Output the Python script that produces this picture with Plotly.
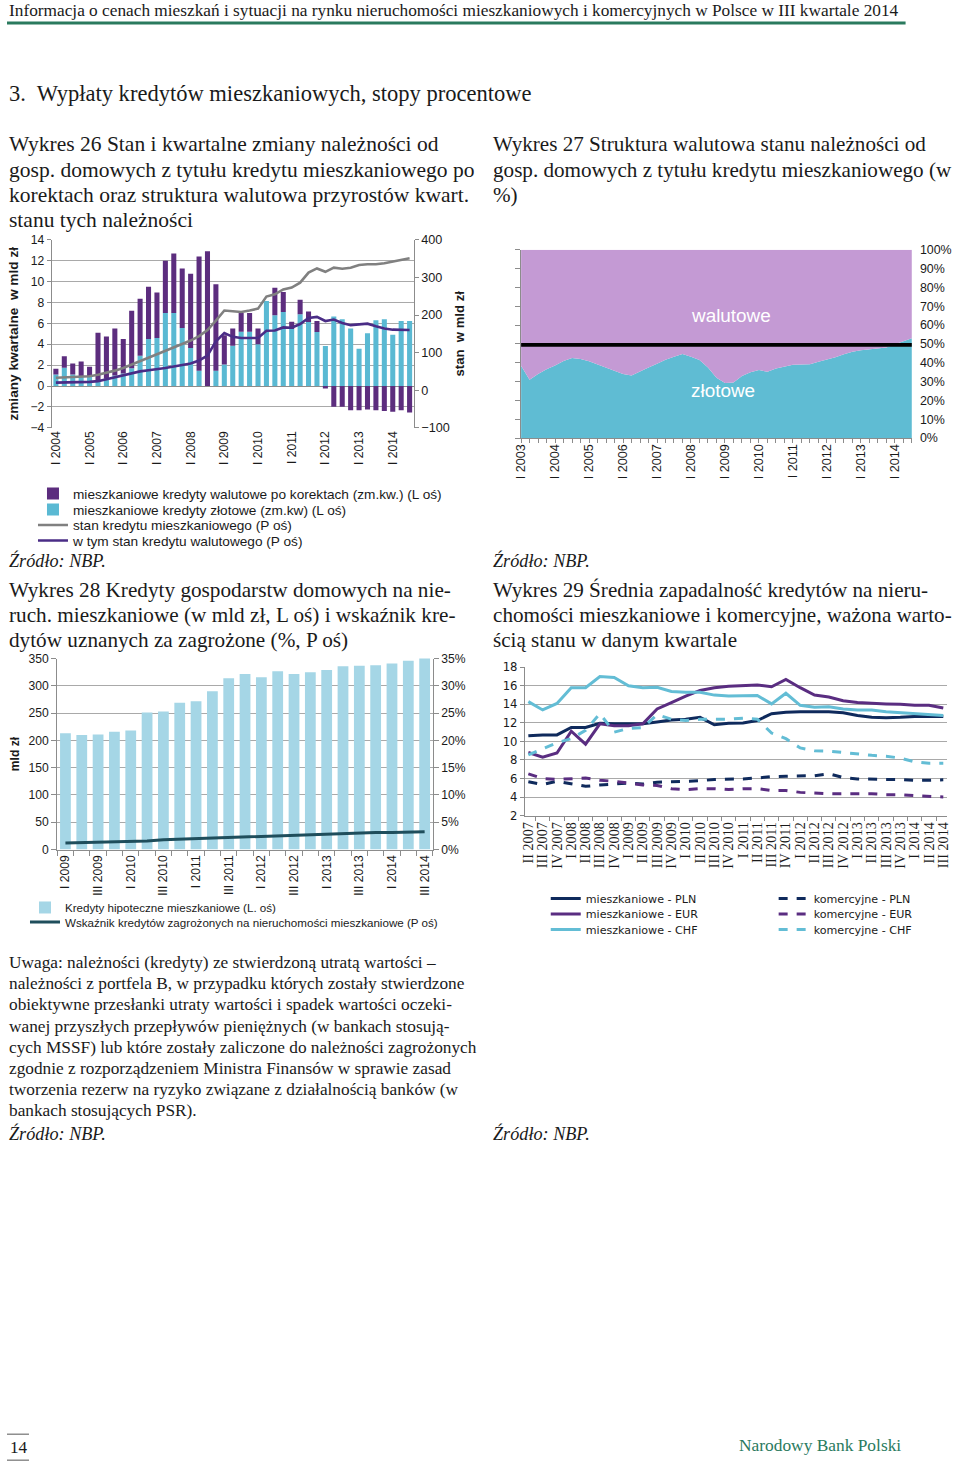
import plotly.graph_objects as go

# Page coordinates (as in the reference) are mapped into figure coordinates.
# The photographed page shows the figure with a small offset and ~0.99 scale,
# so positions and font sizes are pre-compensated for that.
W, H = 960, 1462
BX, BY = 0.989, 0.991
AX, AY = 8.0, 6.0


def fx(x):
    return (x - AX) / BX / W


def fy(y):
    return 1 - (y - AY) / BY / H


def F(s):
    return s / BX


ROMAN = ["I", "II", "III", "IV"]


def quarters(y0, q0, y1, q1):
    out, y, q = [], y0, q0
    while (y, q) <= (y1, q1):
        out.append(f"{ROMAN[q - 1]} {y}")
        q += 1
        if q == 5:
            q, y = 1, y + 1
    return out


# ---------------- DATA ----------------
# Wykres 26 (I 2004 - III 2014)
q26 = quarters(2004, 1, 2014, 3)
zl26 = [1.1, 1.75, 1.1, 0.95, 0.85, 0.5, 0.7, 1.0, 1.2, 1.7, 2.9, 4.5, 4.6, 7.0, 7.0, 5.55,
        3.65, 1.45, 0.0, 1.45, 2.07, 3.85, 5.2, 5.2, 4.0, 8.15, 6.77, 7.1, 5.45, 6.87, 6.13,
        5.18, 3.83, 6.65, 6.4, 5.5, 3.58, 5.05, 6.3, 6.4, 4.9, 6.23, 6.23]
wal26 = [0.55, 1.1, 1.05, 1.4, 1.0, 4.6, 4.05, 4.5, 3.3, 5.5, 5.45, 5.0, 4.35, 5.0, 5.7, 5.7,
         7.1, 10.95, 12.9, 8.3, 2.8, 1.65, 1.8, 1.8, 1.5, 0.0, 2.65, 1.9, 0.7, 1.4, 1.0, 1.05,
         -0.25, -2.0, -2.0, -2.33, -2.33, -2.24, -2.33, -2.4, -2.46, -2.33, -2.55]
stock26 = [33, 34, 35, 36, 37, 41, 46, 52, 59, 68, 77, 86, 95, 104, 114, 122, 132, 144, 160,
           185, 212, 210, 208, 212, 217, 249, 255, 268, 273, 286, 313, 324, 315, 326, 323, 326,
           333, 335, 335, 338, 342, 347, 351]
fxstock26 = [20, 20, 21, 21, 22, 24, 29, 35, 41, 46, 50, 53, 55, 59, 63, 66, 71, 79, 92, 130,
             152, 142, 139, 139, 139, 158, 159, 167, 166, 176, 192, 195, 184, 188, 179, 173,
             175, 177, 170, 164, 161, 160, 160]

# Wykres 27 (I 2003 - III 2014), udział kredytów złotowych w %
q27 = quarters(2003, 1, 2014, 3)
zl27 = [38.4, 31, 34, 36.5, 38.5, 41, 42.6, 42, 40.8, 39.2, 37.5, 35.8, 34, 33.2, 35.5, 37.5,
        39.5, 41.6, 43.2, 44.6, 43.2, 41.5, 37.5, 32, 29.2, 29.5, 33, 35, 36.1, 35.2, 37, 38,
        39, 39.1, 39.2, 40.5, 41.6, 43, 44.5, 45.8, 46.6, 47.2, 47.6, 48.1, 49.8, 51.5, 53]
wal27 = [100 - v for v in zl27]
ref27 = 49.5

# Wykres 28 (I 2009 - III 2014)
q28 = quarters(2009, 1, 2014, 3)
loans28 = [213, 210, 211, 216, 218, 251, 253, 269, 272, 290, 314, 322, 316, 327, 322, 325,
           329, 336, 337, 338, 341, 346, 352]
npl28 = [1.2, 1.25, 1.3, 1.45, 1.5, 1.55, 1.8, 1.9, 2.0, 2.1, 2.25, 2.35, 2.5, 2.6, 2.7, 2.8,
         2.9, 2.95, 3.05, 3.1, 3.1, 3.2, 3.25]

# Wykres 29 (II 2007 - III 2014)
q29 = quarters(2007, 2, 2014, 3)
m_pln = [10.6, 10.7, 10.7, 11.5, 11.5, 11.95, 11.9, 11.9, 11.9, 12.1, 12.3, 12.4, 12.6, 11.8,
         11.95, 12.0, 12.25, 13.0, 13.15, 13.2, 13.2, 13.2, 13.1, 12.8, 12.6, 12.55, 12.6,
         12.7, 12.7, 12.7]
m_eur = [8.8, 8.3, 8.75, 11.1, 9.7, 11.9, 11.7, 11.7, 11.9, 13.5, 14.2, 14.9, 15.5, 15.8,
         15.95, 16.0, 16.1, 15.9, 16.7, 15.8, 15.0, 14.8, 14.4, 14.2, 14.1, 14.05, 14.0, 13.9,
         13.9, 13.6]
m_chf = [14.3, 13.4, 14.1, 15.8, 15.8, 17.0, 16.9, 16.0, 15.8, 15.85, 15.4, 15.3, 15.3, 15.0,
         14.9, 14.9, 14.95, 14.05, 15.2, 13.9, 13.7, 13.75, 13.5, 13.4, 13.4, 13.2, 13.1, 13.0,
         12.9, 12.8]
k_pln = [5.65, 5.35, 5.7, 5.4, 5.15, 5.3, 5.4, 5.5, 5.4, 5.6, 5.65, 5.7, 5.75, 5.9, 5.9, 5.95,
         6.05, 6.2, 6.25, 6.25, 6.3, 6.5, 6.1, 5.95, 5.9, 5.9, 5.9, 5.8, 5.8, 5.85]
k_eur = [6.5, 6.0, 5.9, 5.95, 6.05, 5.8, 5.7, 5.5, 5.3, 5.25, 4.9, 4.8, 4.9, 4.9, 4.8, 4.9,
         4.9, 4.7, 4.7, 4.5, 4.4, 4.35, 4.35, 4.35, 4.35, 4.25, 4.25, 4.15, 4.1, 4.0]
k_chf = [8.55, 9.2, 9.85, 10.3, 11.2, 13.0, 11.0, 11.4, 11.5, 12.9, 12.4, 12.25, 12.4, 12.4,
         12.4, 12.5, 12.4, 10.9, 10.3, 9.3, 9.0, 8.95, 8.8, 8.6, 8.5, 8.4, 8.2, 7.8, 7.65, 7.65]

# ---------------- TEXTS ----------------
header_text = ("Informacja o cenach mieszkań i sytuacji na rynku nieruchomości mieszkaniowych "
               "i komercyjnych w Polsce w III kwartale 2014")
section_text = "3.  Wypłaty kredytów mieszkaniowych, stopy procentowe"
title26 = ["Wykres 26 Stan i kwartalne zmiany należności od",
           "gosp. domowych z tytułu kredytu mieszkaniowego po",
           "korektach oraz struktura walutowa przyrostów kwart.",
           "stanu tych należności"]
title27 = ["Wykres 27 Struktura walutowa stanu należności od",
           "gosp. domowych z tytułu kredytu mieszkaniowego (w",
           "%)"]
title28 = ["Wykres 28 Kredyty gospodarstw domowych na nie-",
           "ruch. mieszkaniowe (w mld zł, L oś) i wskaźnik kre-",
           "dytów uznanych za zagrożone (%, P oś)"]
title29 = ["Wykres 29 Średnia zapadalność kredytów na nieru-",
           "chomości mieszkaniowe i komercyjne, ważona warto-",
           "ścią stanu w danym kwartale"]
note = ["Uwaga: należności (kredyty) ze stwierdzoną utratą wartości –",
        "należności z portfela B, w przypadku których zostały stwierdzone",
        "obiektywne przesłanki utraty wartości i spadek wartości oczeki-",
        "wanej przyszłych przepływów pieniężnych (w bankach stosują-",
        "cych MSSF) lub które zostały zaliczone do należności zagrożonych",
        "zgodnie z rozporządzeniem Ministra Finansów w sprawie zasad",
        "tworzenia rezerw na ryzyko związane z działalnością banków (w",
        "bankach stosujących PSR)."]
source = "Źródło: NBP."

# ---------------- STYLE ----------------
SANS = "Liberation Sans, Arial, sans-serif"
SERIF = "Liberation Serif, Times New Roman, serif"
VERD = "DejaVu Sans, Verdana, sans-serif"
TXT = "#1a1a1a"
GRID = "#a9a9a9"
AXL = "#8c8c8c"
C_PURP = "#5c2d7e"
C_BLUE = "#5ab9d3"
C_ZL = "#5fbcd3"
C_WAL = "#c49ad4"
C_NAVY = "#0f2a5c"
C_EUR = "#5a2d81"
C_CHF = "#63bdd5"
GREEN = "#2a7a5e"

x26 = list(range(len(q26)))
x27 = list(range(len(q27)))
x28 = list(range(len(q28)))
x29 = list(range(len(q29)))

fig = go.Figure()

# ---- Wykres 26
fig.add_trace(go.Bar(x=x26, y=zl26, name="mieszkaniowe kredyty złotowe (zm.kw) (L oś)",
                     marker=dict(color=C_BLUE, line=dict(width=0)), width=0.6,
                     xaxis="x", yaxis="y", legend="legend5"))
fig.add_trace(go.Bar(x=x26, y=wal26, name="mieszkaniowe kredyty walutowe po korektach (zm.kw.) (L oś)",
                     marker=dict(color=C_PURP, line=dict(width=0)), width=0.6,
                     xaxis="x", yaxis="y", legend="legend"))
fig.add_trace(go.Scatter(x=x26, y=stock26, mode="lines", name="stan kredytu mieszkaniowego (P oś)",
                         line=dict(color="#808080", width=2.6), xaxis="x", yaxis="y2",
                         legend="legend6"))
fig.add_trace(go.Scatter(x=x26, y=fxstock26, mode="lines", name="w tym stan kredytu walutowego (P oś)",
                         line=dict(color="#4a2c86", width=2.6), xaxis="x", yaxis="y2",
                         legend="legend7"))

# ---- Wykres 27
fig.add_trace(go.Scatter(x=x27, y=zl27, mode="lines", stackgroup="s27", name="złotowe",
                         line=dict(width=0, color=C_ZL), fillcolor=C_ZL,
                         xaxis="x2", yaxis="y3", showlegend=False))
fig.add_trace(go.Scatter(x=x27, y=wal27, mode="lines", stackgroup="s27", name="walutowe",
                         line=dict(width=0, color=C_WAL), fillcolor=C_WAL,
                         xaxis="x2", yaxis="y3", showlegend=False))
fig.add_trace(go.Scatter(x=x27, y=[ref27] * len(x27), mode="lines", name="50%",
                         line=dict(color="black", width=3.8), xaxis="x2", yaxis="y4",
                         showlegend=False))

# ---- Wykres 28
fig.add_trace(go.Bar(x=x28, y=loans28, name="Kredyty hipoteczne mieszkaniowe (L. oś)",
                     marker=dict(color="#a5d6e6", line=dict(width=0)), width=0.66,
                     xaxis="x3", yaxis="y5", legend="legend2"))
fig.add_trace(go.Scatter(x=x28, y=npl28, mode="lines",
                         name="Wskaźnik kredytów zagrożonych na nieruchomości mieszkaniowe (P oś)",
                         line=dict(color="#1f4e5c", width=3), xaxis="x3", yaxis="y6",
                         legend="legend8"))

# ---- Wykres 29
for ys, nm, col, dash, lg in [
    (m_pln, "mieszkaniowe - PLN", C_NAVY, "solid", "legend3"),
    (m_eur, "mieszkaniowe - EUR", C_EUR, "solid", "legend9"),
    (m_chf, "mieszkaniowe - CHF", C_CHF, "solid", "legend10"),
    (k_pln, "komercyjne - PLN", C_NAVY, "dash", "legend4"),
    (k_eur, "komercyjne - EUR", C_EUR, "dash", "legend11"),
    (k_chf, "komercyjne - CHF", C_CHF, "dash", "legend12"),
]:
    fig.add_trace(go.Scatter(x=x29, y=ys, mode="lines", name=nm,
                             line=dict(color=col, width=3, dash=dash),
                             xaxis="x4", yaxis="y7", legend=lg))

tick_font = dict(family=SANS, size=F(12), color=TXT)

yr26 = [i for i, l in enumerate(q26) if l.startswith("I ")]
yr27 = [i for i, l in enumerate(q27) if l.startswith("I ")]
half28 = list(range(0, len(q28), 2))


def leg(x, y, family, size):
    return dict(x=fx(x), y=fy(y), xanchor="left", yanchor="middle",
                font=dict(family=family, size=F(size), color=TXT), bgcolor="rgba(0,0,0,0)",
                traceorder="normal", tracegroupgap=0, itemwidth=30)


fig.update_layout(
    width=W, height=H, autosize=False,
    margin=dict(l=0, r=0, t=0, b=0),
    paper_bgcolor="white", plot_bgcolor="rgba(0,0,0,0)",
    barmode="relative",
    showlegend=True,
    # Wykres 26
    xaxis=dict(domain=[fx(52.7), fx(415)], anchor="y", range=[-0.5, len(q26) - 0.5],
               tickmode="array", tickvals=yr26, ticktext=[q26[i] for i in yr26],
               tickangle=-90, tickfont=tick_font, showgrid=False, showline=False,
               ticks="", zeroline=False),
    yaxis=dict(domain=[fy(427), fy(239)], anchor="x", range=[-4, 14], dtick=2,
               gridcolor=GRID, gridwidth=1, showline=True, linecolor=AXL, ticks="outside",
               ticklen=4, tickcolor=AXL, tickfont=tick_font,
               zeroline=True, zerolinecolor=AXL, zerolinewidth=1.2,
               title=dict(text="<b>zmiany kwartalne  w mld zł</b>",
                          font=dict(family=SANS, size=F(13.5), color=TXT), standoff=8)),
    yaxis2=dict(overlaying="y", side="right", anchor="x", range=[-100, 400], dtick=100,
                showgrid=False, zeroline=False, showline=True, linecolor=AXL,
                ticks="outside", ticklen=4, tickcolor=AXL,
                tickfont=dict(family=SANS, size=F(12.5), color=TXT),
                title=dict(text="<b>stan  w mld zł</b>",
                           font=dict(family=SANS, size=F(13), color=TXT), standoff=6)),
    # Wykres 27
    xaxis2=dict(domain=[fx(522.3), fx(913.3)], anchor="y3", range=[0, len(q27) - 1],
                tickmode="array", tickvals=yr27, ticktext=[q27[i] for i in yr27],
                tickangle=-90, tickfont=dict(family=SANS, size=F(12.5), color=TXT),
                showgrid=False, showline=True,
                linecolor=AXL, ticks="", zeroline=False,
                minor=dict(ticks="outside", tick0=0, dtick=1, ticklen=4, tickcolor=AXL,
                           showgrid=False)),
    yaxis3=dict(domain=[fy(437.3), fy(249)], anchor="x2", range=[0, 100], dtick=10,
                showgrid=False, zeroline=False, showline=True, linecolor=AXL,
                ticks="outside", ticklen=5, tickcolor=AXL, showticklabels=False),
    yaxis4=dict(overlaying="y3", side="right", anchor="x2", range=[0, 100], dtick=10,
                ticksuffix="%", showgrid=False, zeroline=False, showline=False, ticks="",
                tickfont=dict(family=SANS, size=F(12.3), color=TXT), ticklabelstandoff=7),
    # Wykres 28
    xaxis3=dict(domain=[fx(58.3), fx(434)], anchor="y5", range=[-0.5, len(q28) - 0.5],
                tickmode="array", tickvals=half28, ticktext=[q28[i] for i in half28],
                tickangle=-90, tickfont=dict(family=SANS, size=F(12), color=TXT),
                showgrid=False, showline=True, linecolor=AXL, ticks="", zeroline=False,
                minor=dict(ticks="outside", tick0=-0.5, dtick=1, ticklen=5, tickcolor=AXL,
                           showgrid=False)),
    yaxis5=dict(domain=[fy(849), fy(658)], anchor="x3", range=[0, 350], dtick=50,
                gridcolor=GRID, showline=True, linecolor=AXL, ticks="outside", ticklen=5,
                tickcolor=AXL, zeroline=False, tickfont=dict(family=SANS, size=F(12), color=TXT),
                title=dict(text="<b>mld zł</b>", font=dict(family=SANS, size=F(12), color=TXT),
                           standoff=6)),
    yaxis6=dict(overlaying="y5", side="right", anchor="x3", range=[0, 35], dtick=5,
                ticksuffix="%", showgrid=False, zeroline=False, showline=True, linecolor=AXL,
                ticks="outside", ticklen=5, tickcolor=AXL,
                tickfont=dict(family=SANS, size=F(12), color=TXT)),
    # Wykres 29
    xaxis4=dict(domain=[fx(526), fx(948.3)], anchor="y7", range=[-0.25, len(q29) - 0.75],
                tickmode="array", tickvals=x29, ticktext=q29, tickangle=-90,
                tickfont=dict(family=SERIF, size=F(14), color=TXT), showgrid=False,
                showline=True, linecolor=AXL, ticks="", zeroline=False,
                minor=dict(ticks="outside", tick0=-0.5, dtick=1, ticklen=4, tickcolor=AXL,
                           showgrid=False)),
    yaxis7=dict(domain=[fy(815), fy(666.7)], anchor="x4", range=[2, 18], dtick=2,
                gridcolor=GRID, showline=True, linecolor=AXL, ticks="outside", ticklen=4,
                tickcolor=AXL, zeroline=False,
                tickfont=dict(family=VERD, size=F(11.5), color=TXT)),
    # legends (one entry each, so that the rows sit as tightly as in the reference)
    legend=leg(34, 493, SANS, 13.5),
    legend5=leg(34, 509, SANS, 13.5),
    legend6=leg(34, 524.5, SANS, 13.5),
    legend7=leg(34, 540, SANS, 13.5),
    legend2=leg(26, 907, SANS, 11.5),
    legend8=leg(26, 921.5, SANS, 11.5),
    legend3=leg(547, 898, VERD, 11),
    legend9=leg(547, 913.5, VERD, 11),
    legend10=leg(547, 929, VERD, 11),
    legend4=leg(775, 898, VERD, 11),
    legend11=leg(775, 913.5, VERD, 11),
    legend12=leg(775, 929, VERD, 11),
)

ann = []


def text(x, y, s, size, family=SERIF, color=TXT, italic=False):
    if italic:
        s = f"<i>{s}</i>"
    ann.append(dict(x=fx(x), y=fy(y), xref="paper", yref="paper", text=s, showarrow=False,
                    xanchor="left", yanchor="middle", align="left",
                    font=dict(family=family, size=F(size), color=color)))


text(8, 10, header_text, 17.1)
text(8, 93, section_text, 22.3)
for i, line in enumerate(title26):
    text(8, [143, 169, 194, 219][i], line, 21.3)
for i, line in enumerate(title27):
    text(492, [143, 169, 194][i], line, 20.9)
for i, line in enumerate(title28):
    text(8, [589, 614, 639][i], line, 21.0)
for i, line in enumerate(title29):
    text(492, [589, 614, 639][i], line, 20.9)
for i, line in enumerate(note):
    text(8, 962 + i * 21.2, line, 17.1)
for xx, yy in [(8, 560), (492, 560), (8, 1133), (492, 1133)]:
    text(xx, yy, source, 18, italic=True)
text(9, 1447, "14", 17)
text(738, 1445, "Narodowy Bank Polski", 17.2, color=GREEN)
text(690, 315, "walutowe", 18.7, family=SANS, color="white")
text(690, 390, "złotowe", 18.7, family=SANS, color="white")

fig.update_layout(annotations=ann)

shapes = [
    dict(type="line", xref="paper", yref="paper", x0=0, x1=fx(907), y0=fy(22), y1=fy(22),
         line=dict(color=GREEN, width=3)),
    dict(type="line", xref="paper", yref="paper", x0=0, x1=fx(30), y0=fy(1434), y1=fy(1434),
         line=dict(color="#555", width=1)),
    dict(type="line", xref="paper", yref="paper", x0=0, x1=fx(30), y0=fy(1460), y1=fy(1460),
         line=dict(color="#555", width=1)),
]
fig.update_layout(shapes=shapes)

fig.write_html("out.html", config={"displayModeBar": False},
               post_script="document.body.style.margin='0px';")
